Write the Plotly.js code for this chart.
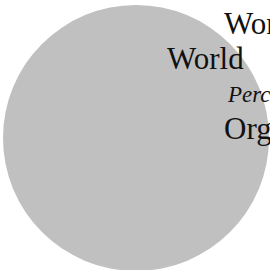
<!DOCTYPE html>
<html>
<head>
<meta charset="utf-8">
<script src="https://cdn.plot.ly/plotly-3.0.1.min.js"></script>
<style>
html, body { margin: 0; padding: 0; overflow: hidden; background: #ffffff; }
#chart { width: 272px; height: 272px; }
</style>
</head>
<body>
<div id="chart"></div>
<script>
// Data
const categories = ['World'];
const values = [100];
const titleText = 'World';
const subtitleText = 'Percent';
const sourceText = 'Organization';

const W = 272, H = 272;
function py(p) { return 1 - p / H; }
function px(p) { return p / W; }

const trace = {
  type: 'pie',
  labels: categories,
  values: values,
  sort: false,
  textinfo: 'none',
  hoverinfo: 'none',
  showlegend: false,
  marker: { colors: ['#c0c0c0'], line: { width: 0 } },
  domain: { x: [3 / W, 269 / W], y: [1 / H, 267 / H] }
};

const serif = 'Liberation Serif, Times New Roman, serif';
const layout = {
  width: W,
  height: H,
  margin: { l: 0, r: 0, t: 0, b: 0 },
  paper_bgcolor: '#ffffff',
  showlegend: false,
  font: { family: serif, color: '#111111' },
  annotations: [
    { text: titleText, xref: 'paper', yref: 'paper', x: px(222), y: py(23), xanchor: 'left', yanchor: 'middle', showarrow: false, font: { family: serif, size: 31, color: '#111111' } },
    { text: categories[0], xref: 'paper', yref: 'paper', x: px(165), y: py(58), xanchor: 'left', yanchor: 'middle', showarrow: false, font: { family: serif, size: 31, color: '#111111' } },
    { text: '<i>' + subtitleText + '</i>', xref: 'paper', yref: 'paper', x: px(225), y: py(94), xanchor: 'left', yanchor: 'middle', showarrow: false, font: { family: serif, size: 23, color: '#111111' } },
    { text: sourceText, xref: 'paper', yref: 'paper', x: px(222), y: py(128), xanchor: 'left', yanchor: 'middle', showarrow: false, font: { family: serif, size: 31, color: '#111111' } }
  ]
};

Plotly.newPlot('chart', [trace], layout, { displayModeBar: false, staticPlot: true });
</script>
</body>
</html>
